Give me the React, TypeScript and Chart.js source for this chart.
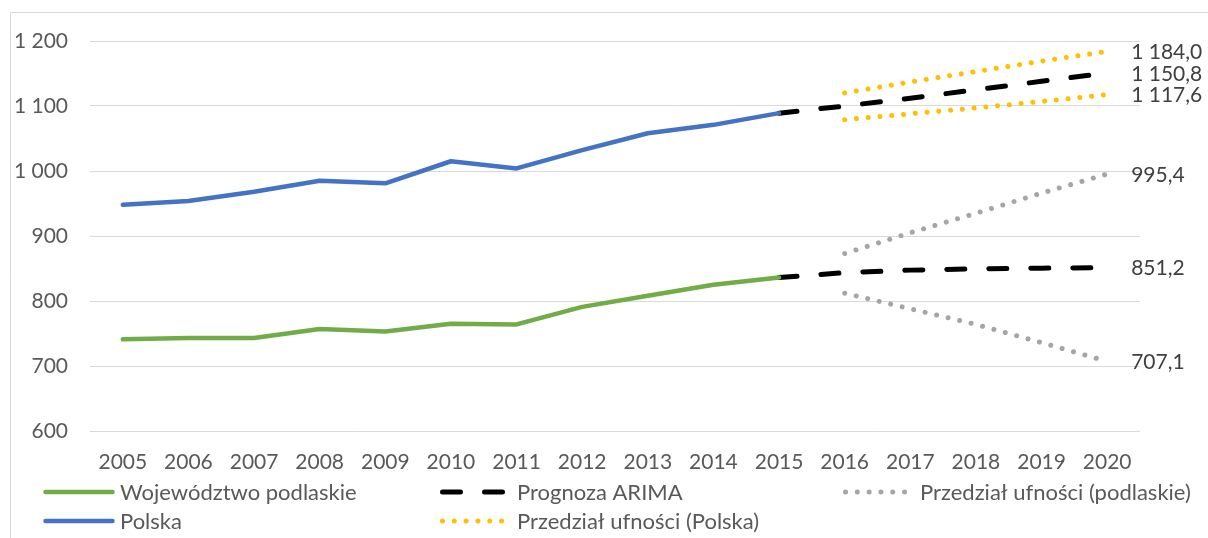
import React, { useEffect, useRef } from "react";
import { Chart, registerables } from "chart.js";

Chart.register(...registerables);

const years = ["2005", "2006", "2007", "2008", "2009", "2010", "2011", "2012", "2013", "2014", "2015", "2016", "2017", "2018", "2019", "2020"];
const podlaskie = [741, 743, 743, 757, 753, 765, 764, 791, 808, 825, 836, null, null, null, null, null];
const polska = [948, 954, 968, 985, 981, 1015, 1004, 1032, 1058, 1071, 1089, null, null, null, null, null];
const arimaPodlaskie = [null, null, null, null, null, null, null, null, null, null, 836, 843.6, 847.5, 849.5, 850.5, 851.2];
const arimaPolska = [null, null, null, null, null, null, null, null, null, null, 1089, 1100, 1112, 1125, 1138, 1150.8];
const ciPolskaUpper = [null, null, null, null, null, null, null, null, null, null, null, 1120, 1137, 1153, 1169, 1184.0];
const ciPolskaLower = [null, null, null, null, null, null, null, null, null, null, null, 1079, 1088, 1097, 1107, 1117.6];
const ciPodlaskieUpper = [null, null, null, null, null, null, null, null, null, null, null, 873, 905, 935, 966, 995.4];
const ciPodlaskieLower = [null, null, null, null, null, null, null, null, null, null, null, 812, 788, 764, 736, 707.1];
const yTicks = [600, 700, 800, 900, 1000, 1100, 1200];
const legendLabels = ["Województwo podlaskie", "Prognoza ARIMA", "Przedział ufności (podlaskie)", "Polska", "Przedział ufności (Polska)"];

const FONT = "Lato, 'Liberation Sans', sans-serif";
const GREEN = "#70ad47";
const BLUE = "#4472c4";
const BLACK = "#000000";
const GRAY = "#a5a5a5";
const YELLOW = "#ffc000";

function fmt(v: number, decimals: number): string {
  const s = v.toFixed(decimals);
  const [intPart, dec] = s.split(".");
  const grouped = intPart.replace(/\B(?=(\d{3})+(?!\d))/g, " ");
  return dec ? grouped + "," + dec : grouped;
}

const DASH = [18, 24];
const DOT = [0.01, 11.8];

const framePlugin = {
  id: "frame",
  beforeDraw(chart: any) {
    const ctx = chart.ctx;
    ctx.save();
    ctx.fillStyle = "#ffffff";
    ctx.fillRect(0, 0, chart.width, chart.height);
    ctx.strokeStyle = "#d9d9d9";
    ctx.lineWidth = 1;
    ctx.beginPath();
    ctx.moveTo(10.5, chart.height);
    ctx.lineTo(10.5, 12.5);
    ctx.lineTo(chart.width, 12.5);
    ctx.stroke();
    ctx.restore();
  },
};

const endLabelPlugin = {
  id: "endLabels",
  afterDatasetsDraw(chart: any) {
    const ctx = chart.ctx;
    ctx.save();
    ctx.font = `21px ${FONT}`;
    ctx.fillStyle = "#404040";
    ctx.textAlign = "left";
    ctx.textBaseline = "middle";
    chart.data.datasets.forEach((ds: any, i: number) => {
      if (!ds.endLabel) return;
      const meta = chart.getDatasetMeta(i);
      const idx = ds.data.length - 1;
      const pt = meta.data[idx];
      if (!pt) return;
      ctx.fillText(fmt(ds.data[idx], 1), pt.x + 24, pt.y + 1);
    });
    ctx.restore();
  },
};

const legendPlugin = {
  id: "customLegend",
  afterDraw(chart: any) {
    const ctx = chart.ctx;
    const ds = chart.data.datasets;
    const items = [
      { label: legendLabels[0], style: ds[0], x: 43, y: 492 },
      { label: legendLabels[1], style: ds[2], x: 440, y: 492 },
      { label: legendLabels[2], style: ds[6], x: 843, y: 492 },
      { label: legendLabels[3], style: ds[1], x: 43, y: 521 },
      { label: legendLabels[4], style: ds[4], x: 440, y: 521 },
    ];
    ctx.save();
    items.forEach((it) => {
      const s = it.style;
      ctx.strokeStyle = s.borderColor;
      ctx.lineWidth = s.borderWidth;
      ctx.lineCap = "round";
      ctx.setLineDash(s.borderDash || []);
      ctx.beginPath();
      ctx.moveTo(it.x + 2.5, it.y);
      ctx.lineTo(it.x + 69.5, it.y);
      ctx.stroke();
      ctx.setLineDash([]);
      ctx.font = `22px ${FONT}`;
      ctx.fillStyle = "#595959";
      ctx.textAlign = "left";
      ctx.textBaseline = "middle";
      ctx.fillText(it.label, it.x + 77, it.y + 1);
    });
    ctx.restore();
  },
};

export default function App() {
  const ref = useRef<HTMLCanvasElement | null>(null);

  useEffect(() => {
    if (!ref.current) return;
    const common = { pointRadius: 0, pointHoverRadius: 0, tension: 0, fill: false, spanGaps: false, borderJoinStyle: "round" as const };
    const chart = new Chart(ref.current, {
      type: "line",
      data: {
        labels: years,
        datasets: [
          { ...common, label: legendLabels[0], data: podlaskie, borderColor: GREEN, backgroundColor: GREEN, borderWidth: 4.5, borderCapStyle: "round" },
          { ...common, label: legendLabels[3], data: polska, borderColor: BLUE, backgroundColor: BLUE, borderWidth: 4.5, borderCapStyle: "round" },
          { ...common, label: legendLabels[1], data: arimaPodlaskie, borderColor: BLACK, backgroundColor: BLACK, borderWidth: 5, borderDash: DASH, borderCapStyle: "round", endLabel: true },
          { ...common, label: legendLabels[1], data: arimaPolska, borderColor: BLACK, backgroundColor: BLACK, borderWidth: 5, borderDash: DASH, borderCapStyle: "round", endLabel: true },
          { ...common, label: legendLabels[4], data: ciPolskaUpper, borderColor: YELLOW, backgroundColor: YELLOW, borderWidth: 5, borderDash: DOT, borderCapStyle: "round", endLabel: true },
          { ...common, label: legendLabels[4], data: ciPolskaLower, borderColor: YELLOW, backgroundColor: YELLOW, borderWidth: 5, borderDash: DOT, borderCapStyle: "round", endLabel: true },
          { ...common, label: legendLabels[2], data: ciPodlaskieUpper, borderColor: GRAY, backgroundColor: GRAY, borderWidth: 5, borderDash: DOT, borderCapStyle: "round", endLabel: true },
          { ...common, label: legendLabels[2], data: ciPodlaskieLower, borderColor: GRAY, backgroundColor: GRAY, borderWidth: 5, borderDash: DOT, borderCapStyle: "round", endLabel: true },
        ] as any,
      },
      options: {
        animation: false,
        responsive: true,
        maintainAspectRatio: false,
        layout: { padding: { left: 0, right: 68, top: 41, bottom: 0 } },
        plugins: { legend: { display: false }, tooltip: { enabled: false } },
        scales: {
          x: {
            type: "category",
            offset: true,
            grid: { display: false, drawTicks: false },
            border: { display: false },
            ticks: { color: "#595959", font: { family: FONT, size: 21 }, padding: 19, maxRotation: 0, autoSkip: false },
            afterFit: (scale: any) => { scale.height = 107; },
          },
          y: {
            min: yTicks[0],
            max: yTicks[yTicks.length - 1],
            grid: { color: "#d9d9d9", lineWidth: 1, drawTicks: false },
            border: { display: false },
            afterBuildTicks: (scale: any) => { scale.ticks = yTicks.map((v) => ({ value: v })); },
            ticks: { color: "#595959", font: { family: FONT, size: 21 }, padding: 22, callback: (v: any) => fmt(Number(v), 0) },
            afterFit: (scale: any) => { scale.width = 90; },
          },
        },
      },
      plugins: [framePlugin, endLabelPlugin, legendPlugin],
    });
    return () => chart.destroy();
  }, []);

  return (
    <div style={{ position: "fixed", left: 0, top: 0, width: 1208, height: 538, background: "#fff" }}>
      <canvas ref={ref} />
    </div>
  );
}
